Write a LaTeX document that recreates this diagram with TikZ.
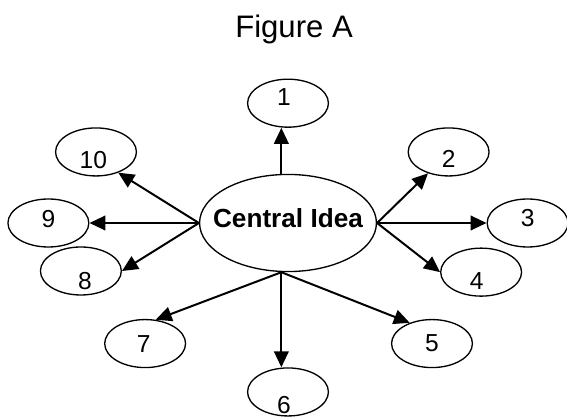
\documentclass[tikz,border=0pt]{standalone}
\usepackage{fontspec}
\setmainfont{Liberation Sans}
\usetikzlibrary{shapes.geometric,arrows.meta}

\tikzstyle{idea} = [ellipse, draw=black, line width=1pt, minimum width=2.14cm, minimum height=1.27cm, inner sep=0pt]
\tikzstyle{main} = [ellipse, draw=black, line width=1pt, minimum width=4.68cm, minimum height=2.57cm, inner sep=0pt]
\tikzstyle{num} = [inner sep=0pt, font=\fontsize{18.5}{22}\selectfont]
\tikzstyle{arrow} = [line width=1.5pt, -{Triangle[length=12pt,width=11pt]}]

\begin{document}
\begin{tikzpicture}[node distance=3.17cm]
\useasboundingbox (-7.62,-5.133) rectangle (7.382,5.90);
 %title and centre
\node (title) [anchor=base, font=\fontsize{23.4}{28}\selectfont] at (0.16,4.92) {Figure A};
\node (central) [main, label={[inner sep=0pt, yshift=3.4pt, font=\fontsize{19.7}{24}\selectfont\bfseries]center:Central Idea}] {};

 %the ten ellipses round it
\node (one) [idea, above of=central, label={[num, yshift=4.5pt, xshift=-3pt]center:1}] {};
\node (two) [idea, right of=central, xshift=1.08cm, yshift=1.88cm, label={[num, yshift=-4.9pt]center:2}] {};
\node (three) [idea, right of=central, xshift=3.17cm, label={[num, yshift=3.4pt]center:3}] {};
\node (four) [idea, right of=central, xshift=1.94cm, yshift=-1.30cm, label={[num, yshift=-6.8pt, xshift=-3.4pt]center:4}] {};
\node (five) [idea, right of=central, xshift=0.64cm, yshift=-3.19cm, label={[num]center:5}] {};
\node (six) [idea, below of=central, yshift=-1.30cm, label={[num, yshift=-9.8pt, xshift=-3pt]center:6}] {};
\node (seven) [idea, left of=central, xshift=-0.61cm, yshift=-3.19cm, label={[num, xshift=-1pt]center:7}] {};
\node (eight) [idea, left of=central, xshift=-2.31cm, yshift=-1.27cm, label={[num, yshift=-7.5pt, xshift=3pt]center:8}] {};
\node (nine) [idea, left of=central, xshift=-3.17cm, label={[num, yshift=3pt]center:9}] {};
\node (ten) [idea, left of=central, xshift=-1.91cm, yshift=1.88cm, label={[num, yshift=-6pt, xshift=-2pt]center:10}] {};

 %arrows
\draw [arrow] ([xshift=-5pt]central.north) -- ([xshift=-5pt]one.south);
\draw [arrow] (central.east) -- (two.-134);
\draw [arrow] (central.east) -- (three.west);
\draw [arrow] (central.east) -- (four.west);
\draw [arrow] ([xshift=-5pt]central.south) -- (five.137);
\draw [arrow] ([xshift=-5pt]central.south) -- ([xshift=-5pt]six.north);
\draw [arrow] ([xshift=-5pt]central.south) -- (seven.66);
\draw [arrow] (central.west) -- (eight.east);
\draw [arrow] (central.west) -- (nine.east);
\draw [arrow] (central.west) -- (ten.-43);

\end{tikzpicture}
\end{document}
